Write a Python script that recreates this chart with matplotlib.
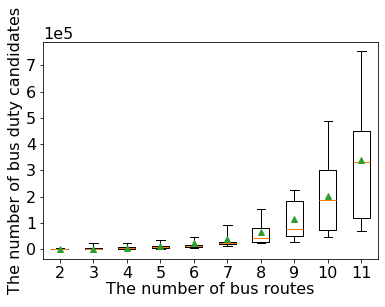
import matplotlib
matplotlib.use('Agg')
import matplotlib.pyplot as plt

plt.rcParams['font.size'] = 16

# number of bus routes
routes = [2, 3, 4, 5, 6, 7, 8, 9, 10, 11]

# box statistics (units of 1e5)
whislo = [0.00, 0.00, 0.00, 0.02, 0.04, 0.11, 0.23, 0.27, 0.46, 0.68]
q1     = [0.00, 0.01, 0.00, 0.04, 0.10, 0.19, 0.27, 0.49, 0.72, 1.18]
med    = [0.00, 0.02, 0.05, 0.08, 0.13, 0.23, 0.42, 0.76, 1.86, 3.31]
q3     = [0.01, 0.06, 0.08, 0.11, 0.16, 0.28, 0.80, 1.82, 3.00, 4.49]
whishi = [0.07, 0.24, 0.24, 0.34, 0.46, 0.91, 1.54, 2.27, 4.87, 7.53]
means  = [0.01, 0.03, 0.07, 0.11, 0.23, 0.38, 0.67, 1.15, 2.04, 3.39]

stats = []
for i in range(len(routes)):
    stats.append({
        'label': str(routes[i]),
        'whislo': whislo[i] * 1e5,
        'q1': q1[i] * 1e5,
        'med': med[i] * 1e5,
        'q3': q3[i] * 1e5,
        'whishi': whishi[i] * 1e5,
        'mean': means[i] * 1e5,
        'fliers': [],
    })

fig = plt.figure(figsize=(385 / 72, 307 / 72), dpi=72)
ax = fig.add_axes([0.112, 0.156, 0.870, 0.707])
ax.bxp(stats, positions=routes, showmeans=True)

ax.set_xlim(1.5, 11.5)
ax.set_ylim(-0.37e5, 7.88e5)
ax.set_yticks([i * 1e5 for i in range(8)])
ax.ticklabel_format(style='sci', scilimits=(0, 0), axis='y')
ax.set_xlabel('The number of bus routes', labelpad=1)
ax.set_ylabel('The number of bus duty candidates', labelpad=3)

fig.savefig('out.png', dpi=72)
